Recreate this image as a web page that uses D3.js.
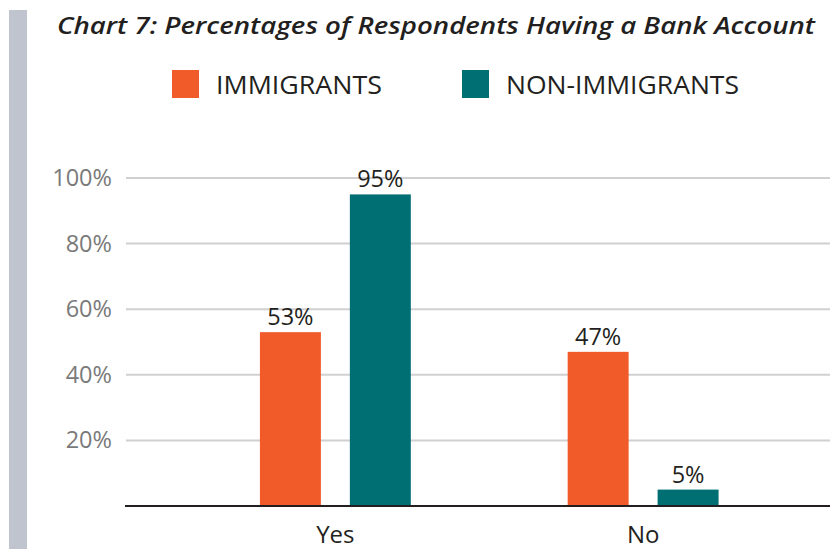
<!DOCTYPE html>
<html>
<head>
<meta charset="utf-8">
<script src="https://cdn.jsdelivr.net/npm/d3@7/dist/d3.min.js"></script>
<style>
  html, body { margin: 0; padding: 0; background: #fff; }
  svg { display: block; font-family: "Open Sans", sans-serif; }
</style>
</head>
<body>
<svg id="chart" width="830" height="549"></svg>
<script>
// Chart data
const categories = ["Yes", "No"];
const seriesNames = ["IMMIGRANTS", "NON-IMMIGRANTS"];
const immigrants = [53, 47];
const nonImmigrants = [95, 5];
const yTicks = [20, 40, 60, 80, 100];
const colors = ["#f15a29", "#006f74"];

const svg = d3.select("#chart");
const W = 830, H = 549;
const plot = { left: 126, right: 830, top: 178, bottom: 506 };

// Side accent bar
svg.append("rect").attr("x", 9).attr("y", 10).attr("width", 18).attr("height", H - 10)
  .attr("fill", "#bfc4cf");

// Title
svg.append("text")
  .attr("x", 57).attr("y", 34)
  .attr("font-size", 24).attr("font-style", "italic").attr("font-weight", 600)
  .attr("fill", "#231f20")
  .attr("textLength", 758).attr("lengthAdjust", "spacingAndGlyphs")
  .text("Chart 7: Percentages of Respondents Having a Bank Account");

// Legend
const legendX = [172, 462];
const legendW = [166, 233];
seriesNames.forEach((name, i) => {
  const g = svg.append("g").attr("transform", `translate(${legendX[i]},70)`);
  g.append("rect").attr("width", 27).attr("height", 28).attr("fill", colors[i]);
  g.append("text").attr("x", 44).attr("y", 24)
    .attr("font-size", 25).attr("font-weight", 400).attr("fill", "#231f20")
    .attr("textLength", legendW[i]).attr("lengthAdjust", "spacingAndGlyphs")
    .text(name);
});

// Scales
const y = d3.scaleLinear().domain([0, 100]).range([plot.bottom, plot.top]);
const x = d3.scaleBand().domain(categories).range([181.5, 797]).paddingInner(0);
const xInner = d3.scaleBand().domain(seriesNames).range([0, x.bandwidth()])
  .paddingInner(0.322).paddingOuter(0.872);

// Tick labels
const yAxis = d3.axisLeft(y).tickValues(yTicks).tickFormat(d => d + "%").tickSize(0).tickPadding(0);
const axisG = svg.append("g").attr("transform", `translate(${plot.left - 14},0)`).call(yAxis);
axisG.select(".domain").remove();
axisG.selectAll("text").attr("font-size", 23.5).attr("fill", "#7a7a7a").attr("font-family", "Open Sans, sans-serif");

// Gridlines
svg.append("g").selectAll("line").data(yTicks).join("line")
  .attr("x1", plot.left).attr("x2", plot.right)
  .attr("y1", d => y(d)).attr("y2", d => y(d))
  .attr("stroke", "#d0d0d0").attr("stroke-width", 2);

// Bars
const rows = categories.map((c, i) => ({ cat: c, values: [immigrants[i], nonImmigrants[i]] }));
const groups = svg.append("g").selectAll("g").data(rows).join("g")
  .attr("transform", d => `translate(${x(d.cat)},0)`);

groups.selectAll("rect").data(d => d.values.map((v, i) => ({ v, s: seriesNames[i], i }))).join("rect")
  .attr("x", d => xInner(d.s)).attr("width", xInner.bandwidth())
  .attr("y", d => y(d.v)).attr("height", d => y(0) - y(d.v))
  .attr("fill", d => colors[d.i]);

groups.selectAll("text.val").data(d => d.values.map((v, i) => ({ v, s: seriesNames[i], i }))).join("text")
  .attr("class", "val")
  .attr("x", d => xInner(d.s) + xInner.bandwidth() / 2)
  .attr("y", d => y(d.v) - 7)
  .attr("text-anchor", "middle").attr("font-size", 23.5).attr("fill", "#231f20")
  .text(d => d.v + "%");

// Baseline
svg.append("line").attr("x1", plot.left - 1).attr("x2", plot.right)
  .attr("y1", y(0)).attr("y2", y(0)).attr("stroke", "#231f20").attr("stroke-width", 2);

// Category labels
const xAxis = d3.axisBottom(x).tickSize(0).tickPadding(0);
const xg = svg.append("g").attr("transform", `translate(0,${plot.bottom + 20})`).call(xAxis);
xg.select(".domain").remove();
xg.selectAll("text").attr("font-size", 24).attr("fill", "#231f20")
  .attr("font-family", "Open Sans, sans-serif").attr("dy", "0.71em");
</script>
</body>
</html>
